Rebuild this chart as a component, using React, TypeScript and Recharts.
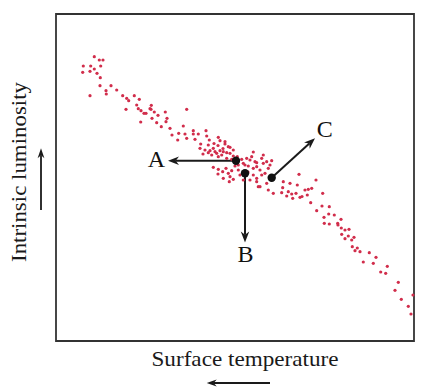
import React from 'react';
import { ScatterChart, Scatter, XAxis, YAxis, ReferenceArea, ReferenceLine, ReferenceDot } from 'recharts';

// star positions (surface temperature index, luminosity index)
const temperature = [
  38.3, 43.3, 47, 27.3, 34.7, 44.7, 38.3, 26.7, 34, 41, 44.3, 44, 55, 50, 50.3, 34, 60.7, 66.7, 70.7, 72.7,
  78.3, 83.3, 80.7, 70, 82.3, 85, 88, 90, 95.3, 94, 95, 98.3, 102, 96, 109.3, 111, 110, 100.7, 84.7, 105.3,
  114, 116, 122.7, 130.7, 121.7, 127.3, 129, 130.7, 137.3, 137.3, 139, 142.3, 150, 150.7, 144.7, 144, 153.3, 152.3, 162.3, 164,
  169, 174, 154, 157.3, 159, 160.7, 164, 165.7, 162.3, 155.7, 152.3, 170.7, 174, 177.3, 181.3, 185.7, 190.7, 194, 200.7, 170.7,
  175.7, 157.3, 162.3, 166.7, 170, 172.3, 175.7, 174, 177.3, 173.3, 182.3, 187.3, 192.3, 197.3, 184, 194, 197.3, 200.7, 202.3, 182.3,
  179, 158, 162, 167, 149, 147, 167.3, 162, 207.3, 205.7, 210.7, 207.3, 215.7, 214, 212.3, 204, 209, 205.7, 200.7, 210.7,
  212.3, 217.3, 204, 243, 227.3, 234, 241.3, 226.7, 232.3, 225.7, 235.7, 240, 230.7, 236.7, 244, 260, 249, 252.3, 255.7, 266.7,
  254.7, 251.3, 260.7, 266, 273.3, 268, 272.7, 278.3, 268.3, 273.3, 281.7, 282, 285, 285.3, 289, 293, 285.7, 292.3, 298, 289,
  295.7, 296.3, 301.3, 299, 304, 313.3, 320, 307.3, 317.3, 324.7, 331.3, 329.7, 342.3, 339, 345.3, 352.3, 355, 357, 246, 169,
  172.3, 177.3, 167.3, 195.7, 197.3, 189, 199, 200.7, 187.3, 192,
];
const luminosity = [
  284.3, 281, 281, 275, 275, 275, 272, 268.7, 269.7, 267.7, 263.3, 255.3, 255.3, 250.3, 247, 245.3, 251, 245.3, 242.7, 240.3,
  245.3, 241.7, 236, 231.7, 232.3, 230.3, 227.7, 227.7, 235.7, 232.3, 231.7, 229, 225.7, 222.7, 229, 222.7, 219.3, 218.3, 219, 214.3,
  212.7, 206, 207.7, 231.7, 201, 215, 207, 202.7, 210.3, 207, 201.7, 207, 210.3, 205, 197, 192.7, 201, 196, 203.7, 200.3,
  197, 193.7, 190.3, 192.7, 189.3, 187.7, 190.3, 186, 184.3, 186, 188.3, 188.3, 187.7, 185, 184.3, 181.7, 182.7, 181, 178.3, 182.7,
  181.7, 173.7, 171.7, 169.3, 172.7, 167.7, 170.3, 164.3, 161.7, 159.3, 176, 177.7, 175, 172.7, 166, 161, 166, 159.3, 154.3, 171,
  175, 197.5, 195.5, 192.5, 191, 187, 162.7, 167, 186, 182.7, 179.3, 177.7, 180.3, 176, 172.7, 171, 167.7, 166, 162.7, 157.7,
  151, 147.7, 154.3, 166.7, 159.3, 157.7, 156, 153.3, 149.3, 148.3, 147, 147.7, 145, 142.7, 143.7, 161, 151, 151.7, 152.7, 147.7,
  138.3, 146, 130.3, 135, 134.3, 123.7, 127, 126, 117.7, 117, 117.7, 116, 121.7, 113, 111, 111.7, 106.7, 105, 103.7, 102.3,
  101, 94.3, 93, 90.3, 89.3, 88.3, 83.7, 79, 77.7, 69, 74.7, 67.7, 58.7, 50.7, 41.7, 34.7, 27, 46, 144.5, 199.3,
  194.3, 191, 189.3, 184.3, 189, 176, 179.3, 174.3, 161, 169,
];

// labelled stars A, B, C and the arrow tips leaving them
const markerNames = ['A', 'B', 'C'];
const markerTemp = [180, 189, 215.7];
const markerLum = [180.3, 167.7, 163.3];
const arrowTipTemp = [112, 189, 259];
const arrowTipLum = [180.3, 98.5, 202.7];
const labelTemp = [100.3, 189.5, 268.7];
const labelLum = [174.3, 79.3, 204.3];

const stars = temperature.map((t, i) => ({ t, l: luminosity[i] }));
const markers = markerNames.map((name, i) => ({ name, t: markerTemp[i], l: markerLum[i] }));

const SERIF = '"Liberation Serif", "Times New Roman", "DejaVu Serif", serif';

const makeArrow = (len: number, hw: number, sw: number) => (p: any) => {
  const { x1, y1, x2, y2 } = p;
  const dx = x2 - x1;
  const dy = y2 - y1;
  const L = Math.hypot(dx, dy) || 1;
  const ux = dx / L;
  const uy = dy / L;
  const nx = -uy;
  const ny = ux;
  const bx = x2 - ux * len;
  const by = y2 - uy * len;
  const ix = x2 - ux * len * 0.7;
  const iy = y2 - uy * len * 0.7;
  return (
    <g>
      <line x1={x1} y1={y1} x2={ix} y2={iy} stroke="#1a1a1a" strokeWidth={sw} />
      <polygon
        points={`${x2},${y2} ${bx + nx * hw},${by + ny * hw} ${ix},${iy} ${bx - nx * hw},${by - ny * hw}`}
        fill="#1a1a1a"
      />
    </g>
  );
};

const bigArrow = makeArrow(11, 4.2, 2);
const axisArrow = makeArrow(10, 3.4, 1.8);

export default function App() {
  return (
    <div>
      <style>{'body{margin:0;background:#fff}'}</style>
      <ScatterChart width={424} height={391} margin={{ top: 14, right: 10, bottom: 50, left: 56 }}>
        <XAxis type="number" dataKey="t" domain={[0, 358]} hide />
        <YAxis type="number" dataKey="l" domain={[0, 327]} hide />
        <ReferenceArea x1={0} x2={358} y1={0} y2={327} fill="none" stroke="#333" strokeWidth={1.8} fillOpacity={0} ifOverflow="visible" />
        <Scatter
          data={stars}
          isAnimationActive={false}
          shape={(p: any) => <circle cx={p.cx} cy={p.cy} r={1.6} fill="#d12d4b" />}
        />
        {markers.map((m, i) => (
          <ReferenceLine
            key={'arr' + m.name}
            segment={[
              { x: markerTemp[i], y: markerLum[i] },
              { x: arrowTipTemp[i], y: arrowTipLum[i] },
            ]}
            ifOverflow="visible"
            shape={bigArrow}
          />
        ))}
        {markers.map((m, i) => (
          <ReferenceDot
            key={'lab' + m.name}
            x={labelTemp[i]}
            y={labelLum[i]}
            ifOverflow="visible"
            shape={(p: any) => (
              <text x={p.cx} y={p.cy} textAnchor="middle" fontFamily={SERIF} fontSize={24} style={{ fill: '#111' }}>
                {m.name}
              </text>
            )}
          />
        ))}
        <Scatter
          data={markers}
          isAnimationActive={false}
          shape={(p: any) => <circle cx={p.cx} cy={p.cy} r={4.2} fill="#111" />}
        />
        <ReferenceLine segment={[{ x: 214, y: -42 }, { x: 150.7, y: -42 }]} ifOverflow="visible" shape={axisArrow} />
        <ReferenceLine segment={[{ x: -15, y: 131 }, { x: -15, y: 192.7 }]} ifOverflow="visible" shape={axisArrow} />
        <text x={245} y={366} textAnchor="middle" fontFamily={SERIF} fontSize={21} fill="#1a1a1a" textLength={187} lengthAdjust="spacingAndGlyphs">
          Surface temperature
        </text>
        <text
          x={0}
          y={0}
          transform="translate(25.5,172) rotate(-90)"
          textAnchor="middle"
          fontFamily={SERIF}
          fontSize={21}
          fill="#1a1a1a"
          textLength={180}
          lengthAdjust="spacingAndGlyphs"
        >
          Intrinsic luminosity
        </text>
      </ScatterChart>
    </div>
  );
}
